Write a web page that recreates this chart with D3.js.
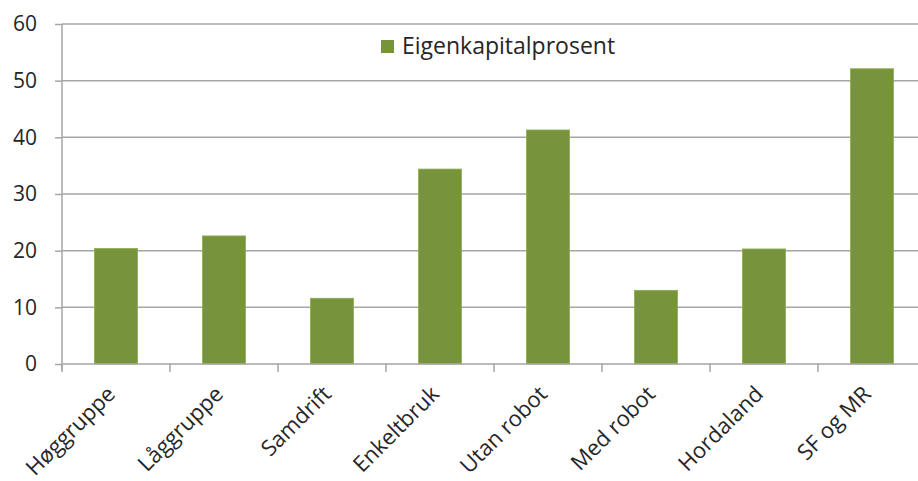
<!DOCTYPE html>
<html>
<head>
<meta charset="utf-8">
<script src="https://cdn.jsdelivr.net/npm/d3@7"></script>
<style>
  html, body { margin: 0; padding: 0; background: #fff; }
  svg { display: block; }
  text { font-family: "Open Sans", "Noto Sans", sans-serif; fill: #262626; }
</style>
</head>
<body>
<svg id="chart" width="918" height="481"></svg>
<script>
const categories = ["Høggruppe", "Låggruppe", "Samdrift", "Enkeltbruk", "Utan robot", "Med robot", "Hordaland", "SF og MR"];
const values = [20.4, 22.6, 11.6, 34.4, 41.3, 13.0, 20.3, 52.1];
const seriesName = "Eigenkapitalprosent";
const yTicks = [0, 10, 20, 30, 40, 50, 60];

const svg = d3.select("#chart");
const plotLeft = 62, plotRight = 926, plotTop = 24, plotBottom = 364;
const gridColor = "#a6a6a6";
const barColor = "#77933c";

const x = d3.scaleBand().domain(categories).range([plotLeft, plotRight]).paddingInner(0.6).paddingOuter(0.3);
const y = d3.scaleLinear().domain([0, 60]).range([plotBottom, plotTop]);

// gridlines
svg.append("g").selectAll("line").data(yTicks.filter(d => d > 0)).join("line")
  .attr("x1", plotLeft).attr("x2", 918)
  .attr("y1", d => y(d)).attr("y2", d => y(d))
  .attr("stroke", gridColor).attr("stroke-width", 1.5);

// y axis
const yAxis = svg.append("g").attr("transform", `translate(${plotLeft},0)`)
  .call(d3.axisLeft(y).tickValues(yTicks).tickSize(7).tickPadding(18).tickFormat(d3.format("d")));
yAxis.select(".domain").attr("stroke", gridColor).attr("stroke-width", 1.5).attr("d", `M0,${plotTop}V${plotBottom + 6}`);
yAxis.selectAll(".tick line").attr("stroke", gridColor).attr("stroke-width", 1.5);
yAxis.selectAll(".tick text").style("font-size", "21px").attr("fill", "#262626").style("font-family", "'Open Sans', sans-serif");

// bars
svg.append("g").selectAll("rect").data(categories).join("rect")
  .attr("x", d => x(d))
  .attr("width", x.bandwidth())
  .attr("y", (d, i) => y(values[i]))
  .attr("height", (d, i) => y(0) - y(values[i]))
  .attr("fill", barColor)
  .attr("stroke", "#8fae52").attr("stroke-width", 0.8);

// x axis
const step = x.step();
const xAxisG = svg.append("g").attr("transform", `translate(0,${plotBottom})`);
xAxisG.append("line").attr("x1", plotLeft).attr("x2", 918).attr("y1", 0).attr("y2", 0)
  .attr("stroke", gridColor).attr("stroke-width", 1.5);
const boundaries = d3.range(categories.length + 1).map(i => plotLeft + i * step);
xAxisG.selectAll("line.tk").data(boundaries).join("line").attr("class", "tk")
  .attr("x1", d => d).attr("x2", d => d).attr("y1", 0).attr("y2", 8)
  .attr("stroke", gridColor).attr("stroke-width", 1.5);

xAxisG.selectAll("text.lbl").data(categories).join("text").attr("class", "lbl")
  .attr("transform", d => `translate(${x(d) + x.bandwidth() / 2 - 5},${26}) rotate(-45)`)
  .attr("text-anchor", "end")
  .attr("dy", "0.35em")
  .style("font-size", "22px")
  .text(d => d);

// legend
const lg = svg.append("g").attr("transform", "translate(381,40)");
lg.append("rect").attr("width", 13).attr("height", 13).attr("fill", barColor);
lg.append("text").attr("x", 21).attr("y", 14).style("font-size", "23px").text(seriesName);
</script>
</body>
</html>
